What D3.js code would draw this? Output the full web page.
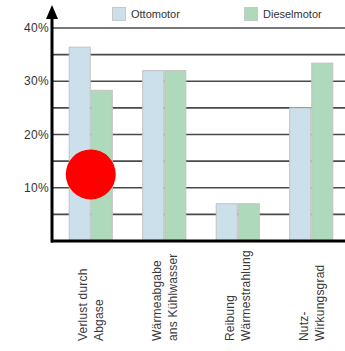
<!DOCTYPE html>
<html>
<head>
<meta charset="utf-8">
<script src="https://cdn.jsdelivr.net/npm/d3@7"></script>
<style>
  html, body { margin: 0; padding: 0; background: #fff; }
  svg { display: block; font-family: "Liberation Sans", Arial, sans-serif; }
</style>
</head>
<body>
<svg id="chart" width="345" height="351"></svg>
<script>
// Energy balance of petrol vs. diesel engines (share of fuel energy, %)
const categories = ["abgase", "kuehlwasser", "reibung", "nutz"];
const categoryLines = [
  ["Verlust durch", "Abgase"],
  ["Wärmeabgabe", "ans Kühlwasser"],
  ["Reibung", "Wärmestrahlung"],
  ["Nutz-", "Wirkungsgrad"]
];
const seriesNames = ["Ottomotor", "Dieselmotor"];
const ottoValues = [36.4, 32, 7, 25];
const dieselValues = [28.3, 32, 7, 33.4];
const gridValues = [5, 10, 15, 20, 25, 30, 35, 40];
const tickValues = [10, 20, 30, 40];
const tickLabels = ["10%", "20%", "30%", "40%"];
const markerValue = 12.5; // red marker on the first category

const colors = ["#cbe0eb", "#afd9bb"];
const svg = d3.select("#chart");

const plotLeft = 52, plotRight = 345, plotBottom = 241, plotTop = 28;

const y = d3.scaleLinear().domain([0, 40]).range([plotBottom, plotTop]);
const x0 = d3.scaleBand().domain(categories).range([54, 348])
  .paddingInner(0.4).paddingOuter(0.2);
const x1 = d3.scaleBand().domain(seriesNames).range([0, x0.bandwidth()]);

// grid lines
svg.append("g").selectAll("line").data(gridValues).join("line")
  .attr("x1", plotLeft).attr("x2", plotRight)
  .attr("y1", d => y(d)).attr("y2", d => y(d))
  .attr("stroke", "#4a4a4a").attr("stroke-width", 1.6);

// bars
const rows = categories.map((c, i) => ({ cat: c, vals: [ottoValues[i], dieselValues[i]] }));
const groups = svg.append("g").selectAll("g").data(rows).join("g")
  .attr("transform", d => `translate(${x0(d.cat)},0)`);
groups.selectAll("rect")
  .data(d => d.vals.map((v, j) => ({ name: seriesNames[j], v, j })))
  .join("rect")
  .attr("x", d => x1(d.name) + 0.5)
  .attr("y", d => y(d.v))
  .attr("width", x1.bandwidth() - 1)
  .attr("height", d => y(0) - y(d.v))
  .attr("fill", d => colors[d.j])
  .attr("stroke", "#c2c2c2").attr("stroke-width", 1);

// red marker
svg.append("circle")
  .attr("cx", x0(categories[0]) + x0.bandwidth() / 2)
  .attr("cy", y(markerValue))
  .attr("r", 25)
  .attr("fill", "#ff0000");

// axes
svg.append("line")
  .attr("x1", plotLeft - 1).attr("x2", plotRight)
  .attr("y1", plotBottom).attr("y2", plotBottom)
  .attr("stroke", "#000").attr("stroke-width", 3);
svg.append("line")
  .attr("x1", plotLeft).attr("x2", plotLeft)
  .attr("y1", plotBottom + 1.5).attr("y2", 16)
  .attr("stroke", "#000").attr("stroke-width", 3);
svg.append("path")
  .attr("d", `M${plotLeft},5 L${plotLeft + 6},19 L${plotLeft - 6},19 Z`)
  .attr("fill", "#000");

// y tick labels
svg.append("g").selectAll("text").data(tickValues).join("text")
  .attr("x", 49).attr("y", d => y(d))
  .attr("dy", "0.35em")
  .attr("text-anchor", "end")
  .attr("font-size", 12).attr("letter-spacing", 0.3)
  .attr("fill", "#333")
  .text((d, i) => tickLabels[i]);

// category labels, rotated
const lineOffsets = [-7.5, 8.5];
categories.forEach((c, i) => {
  const cx = x0(c) + x0.bandwidth() / 2;
  categoryLines[i].forEach((txt, k) => {
    svg.append("text")
      .attr("transform", `translate(${cx + lineOffsets[k]},341) rotate(-90)`)
      .attr("dy", "0.35em")
      .attr("font-size", 12).attr("letter-spacing", 0.2)
      .attr("fill", "#3a3a3a")
      .text(txt);
  });
});

// legend
const legendX = [112, 244];
const legend = svg.append("g").selectAll("g").data(seriesNames).join("g")
  .attr("transform", (d, i) => `translate(${legendX[i]},7)`);
legend.append("rect")
  .attr("x", 0.5).attr("y", 0.5).attr("width", 13).attr("height", 13)
  .attr("fill", (d, i) => colors[i])
  .attr("stroke", "#c8c8c8");
legend.append("text")
  .attr("x", 19).attr("y", 7).attr("dy", "0.35em")
  .attr("font-size", 11).attr("fill", "#333")
  .text(d => d);
</script>
</body>
</html>
